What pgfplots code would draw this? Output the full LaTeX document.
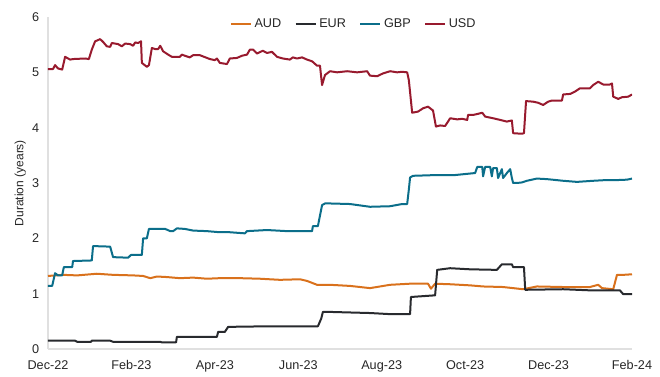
\documentclass[border=0pt]{standalone}
\usepackage{pgfplots}
\pgfplotsset{compat=1.18}
\usepackage{fontspec}
\setmainfont{Liberation Sans}
\definecolor{cAUD}{RGB}{217,113,28}
\definecolor{cEUR}{RGB}{40,42,46}
\definecolor{cGBP}{RGB}{11,110,138}
\definecolor{cUSD}{RGB}{152,26,46}
\begin{document}
\begin{tikzpicture}
\begin{axis}[
  scale only axis, width=438pt, height=249pt,
  xmin=0, xmax=14, ymin=0, ymax=6,
  xtick={0,2,4,6,8,10,12,14},
  xticklabels={Dec-22,Feb-23,Apr-23,Jun-23,Aug-23,Oct-23,Dec-23,Feb-24},
  ytick={0,1,2,3,4,5,6},
  major tick length=0pt,
  axis line style={draw=black!12, line width=0.8pt},
  axis x line*=bottom, axis y line*=left,
  tick label style={font=\fontsize{9.5}{11}\selectfont, text=black!85},
  /pgf/number format/assume math mode=true,
  xticklabel style={yshift=-5pt},
  yticklabel style={xshift=-3pt},
  ylabel={Duration (years)},
  ylabel style={font=\fontsize{9}{11}\selectfont, text=black!85, yshift=-2pt},
  legend style={draw=none, fill=none, at={(0.524,0.979)}, anchor=center,
    legend columns=4, font=\fontsize{9.5}{11}\selectfont, text=black!85,
    /tikz/every even column/.append style={column sep=8pt}},
  legend image code/.code={\draw[#1] (0pt,0pt) -- (15pt,0pt);},
  every axis plot/.append style={line width=1.5pt, line join=round},
]
\coordinate (ll) at (rel axis cs:0,0);
\coordinate (ur) at (rel axis cs:1,1);
\addplot[cAUD] coordinates {(0,1.32)(0.36,1.34)(0.70,1.33)(1.17,1.36)(1.56,1.34)(2.04,1.33)(2.28,1.32)(2.45,1.28)(2.61,1.31)(2.85,1.30)(3.16,1.28)(3.48,1.29)(3.81,1.27)(4.12,1.28)(4.60,1.28)(5.08,1.27)(5.56,1.25)(6.04,1.26)(6.21,1.23)(6.45,1.16)(6.76,1.16)(7.24,1.14)(7.72,1.10)(8.20,1.16)(8.68,1.18)(9.11,1.18)(9.18,1.09)(9.28,1.18)(9.64,1.17)(10.12,1.15)(10.43,1.13)(10.91,1.12)(11.39,1.08)(11.72,1.13)(12.35,1.12)(12.99,1.12)(13.19,1.16)(13.28,1.10)(13.55,1.08)(13.64,1.34)(13.79,1.34)(14.00,1.35)};
\addlegendentry{AUD}
\addplot[cEUR] coordinates {(0,0.15)(0.65,0.15)(0.70,0.13)(1.03,0.13)(1.05,0.15)(1.49,0.15)(1.56,0.13)(2.69,0.13)(2.73,0.12)(3.07,0.12)(3.09,0.22)(4.05,0.22)(4.08,0.31)(4.24,0.31)(4.32,0.40)(5.25,0.41)(6.47,0.41)(6.55,0.55)(6.59,0.67)(6.76,0.67)(7.72,0.65)(8.20,0.63)(8.68,0.63)(8.70,0.94)(9.28,0.97)(9.33,1.43)(9.64,1.46)(10.12,1.44)(10.76,1.43)(10.88,1.53)(11.12,1.53)(11.15,1.48)(11.41,1.48)(11.44,1.07)(12.35,1.08)(12.99,1.06)(13.71,1.06)(13.79,0.99)(14.00,0.99)};
\addlegendentry{EUR}
\addplot[cGBP] coordinates {(0,1.14)(0.10,1.14)(0.17,1.37)(0.24,1.33)(0.34,1.33)(0.38,1.48)(0.58,1.48)(0.60,1.59)(1.05,1.60)(1.08,1.86)(1.49,1.85)(1.56,1.66)(1.92,1.65)(1.99,1.70)(2.25,1.70)(2.28,2.00)(2.37,2.00)(2.42,2.17)(2.81,2.17)(2.93,2.13)(3.00,2.13)(3.09,2.18)(3.28,2.17)(3.48,2.14)(3.81,2.13)(4.12,2.11)(4.36,2.11)(4.72,2.09)(4.77,2.13)(5.25,2.15)(5.73,2.13)(6.33,2.13)(6.35,2.22)(6.47,2.22)(6.57,2.60)(6.64,2.63)(6.76,2.63)(7.24,2.62)(7.72,2.57)(8.20,2.58)(8.49,2.62)(8.61,2.62)(8.65,2.88)(8.68,3.10)(8.75,3.13)(9.16,3.14)(9.71,3.14)(10.24,3.18)(10.29,3.29)(10.41,3.29)(10.43,3.12)(10.48,3.29)(10.60,3.29)(10.64,3.12)(10.67,3.27)(10.76,3.27)(10.79,3.09)(10.88,3.25)(10.91,3.09)(11.00,3.18)(11.08,3.25)(11.12,3.09)(11.15,3.00)(11.24,3.00)(11.36,3.01)(11.48,3.04)(11.72,3.08)(11.96,3.07)(12.35,3.04)(12.68,3.02)(13.07,3.04)(13.31,3.05)(13.55,3.05)(13.88,3.06)(14.00,3.08)};
\addlegendentry{GBP}
\addplot[cUSD] coordinates {(0,5.06)(0.12,5.06)(0.17,5.13)(0.24,5.07)(0.34,5.05)(0.41,5.28)(0.53,5.23)(0.60,5.24)(0.89,5.25)(0.98,5.24)(1.05,5.41)(1.13,5.56)(1.25,5.60)(1.32,5.55)(1.41,5.47)(1.49,5.46)(1.53,5.53)(1.68,5.51)(1.77,5.47)(1.85,5.52)(1.97,5.51)(2.04,5.48)(2.09,5.54)(2.16,5.53)(2.23,5.56)(2.25,5.17)(2.37,5.10)(2.42,5.13)(2.49,5.44)(2.57,5.42)(2.64,5.42)(2.69,5.48)(2.76,5.38)(2.88,5.32)(2.97,5.28)(3.16,5.28)(3.21,5.32)(3.28,5.30)(3.40,5.27)(3.48,5.31)(3.64,5.31)(3.88,5.24)(4.00,5.22)(4.05,5.25)(4.12,5.17)(4.29,5.15)(4.36,5.25)(4.53,5.26)(4.65,5.30)(4.77,5.32)(4.84,5.41)(4.92,5.41)(5.01,5.34)(5.15,5.39)(5.25,5.35)(5.37,5.37)(5.49,5.28)(5.63,5.25)(5.80,5.23)(5.87,5.27)(5.97,5.25)(6.09,5.27)(6.21,5.23)(6.33,5.20)(6.45,5.12)(6.52,5.12)(6.57,4.77)(6.64,4.95)(6.76,5.02)(6.93,5.00)(7.17,5.02)(7.41,5.00)(7.65,5.02)(7.72,4.94)(7.89,4.93)(8.03,4.98)(8.20,5.02)(8.37,5.00)(8.49,5.01)(8.61,5.00)(8.65,4.86)(8.73,4.27)(8.87,4.29)(8.99,4.35)(9.11,4.38)(9.23,4.31)(9.30,4.02)(9.40,4.04)(9.52,4.03)(9.59,4.11)(9.64,4.17)(9.81,4.15)(9.93,4.16)(10.05,4.14)(10.07,4.23)(10.19,4.23)(10.31,4.25)(10.41,4.27)(10.48,4.20)(10.67,4.17)(10.84,4.14)(11.00,4.11)(11.12,4.13)(11.15,3.90)(11.36,3.89)(11.41,3.90)(11.46,4.48)(11.63,4.47)(11.75,4.45)(11.87,4.41)(11.99,4.47)(12.08,4.49)(12.32,4.49)(12.35,4.60)(12.52,4.61)(12.63,4.65)(12.75,4.71)(12.99,4.71)(13.07,4.77)(13.19,4.83)(13.31,4.78)(13.47,4.78)(13.52,4.80)(13.55,4.56)(13.67,4.52)(13.76,4.55)(13.91,4.56)(14.00,4.60)};
\addlegendentry{USD}
\end{axis}
\pgfresetboundingbox
\path[use as bounding box] ([shift={(-36pt,-21pt)}]ll) rectangle ([shift={(21pt,12.75pt)}]ur);
\end{tikzpicture}
\end{document}
